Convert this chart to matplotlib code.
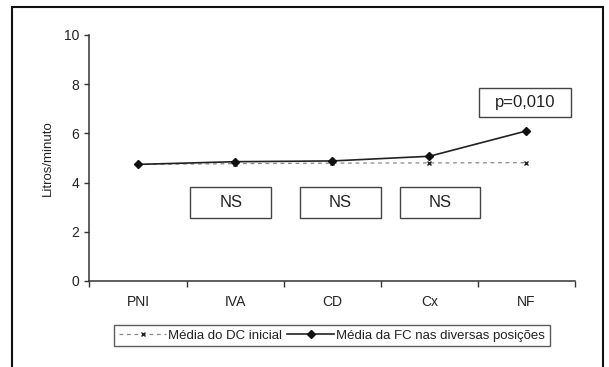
import matplotlib
matplotlib.use("Agg")
import matplotlib.pyplot as plt
from matplotlib.patches import Rectangle

plt.rcParams['font.family'] = ['Liberation Sans', 'DejaVu Sans']

categories = ["PNI", "IVA", "CD", "Cx", "NF"]
dc_inicial = [4.74, 4.77, 4.79, 4.80, 4.81]
fc_posicoes = [4.74, 4.85, 4.88, 5.07, 6.10]
y_ticks = [0, 2, 4, 6, 8, 10]
ns_labels = ["NS", "NS", "NS"]
p_label = "p=0,010"
series_labels = ["Média do DC inicial", "Média da FC nas diversas posições"]
y_label = "Litros/minuto"

W, H = 609, 367
fig = plt.figure(figsize=(W / 100, H / 100), dpi=100)
ax = fig.add_axes([89.5 / W, 1 - 281 / H, (575 - 89.5) / W, (281 - 35) / H])

x = list(range(len(categories)))
ax.plot(x, dc_inicial, linestyle=(0, (3, 3)), color="#888888", linewidth=0.9,
        marker="x", markersize=3.5, markeredgecolor="#222222", markeredgewidth=1.0,
        label=series_labels[0], zorder=3)
ax.plot(x, fc_posicoes, linestyle="-", color="#222222", linewidth=1.2,
        marker="D", markersize=4.5, markerfacecolor="#111111", markeredgecolor="#111111",
        label=series_labels[1], zorder=4)

ax.set_xlim(-0.5, len(categories) - 0.5)
ax.set_ylim(0, 10)
ax.set_yticks(y_ticks)
ax.set_yticklabels([str(v) for v in y_ticks], fontsize=10, color="#222222")
ax.set_xticks(x)
ax.set_xticklabels(categories, fontsize=10, color="#222222")
ax.set_xticks([i - 0.5 for i in range(len(categories) + 1)], minor=True)
ax.tick_params(axis="x", which="major", length=0, pad=10)
ax.tick_params(axis="x", which="minor", length=4, direction="out", color="#333333", width=1)
ax.tick_params(axis="y", length=3.5, direction="out", color="#333333", width=1, pad=4)

for s in ["top", "right"]:
    ax.spines[s].set_visible(False)
for s in ["left", "bottom"]:
    ax.spines[s].set_color("#333333")
    ax.spines[s].set_linewidth(1.1)

# annotation boxes
ns_boxes = [(0.54, 1.37), (1.67, 2.50), (2.70, 3.52)]
for (x0, x1), lab in zip(ns_boxes, ns_labels):
    ax.add_patch(Rectangle((x0, 2.57), x1 - x0, 3.81 - 2.57, fill=False,
                           edgecolor="#444444", linewidth=1.0, zorder=2))
    ax.text((x0 + x1) / 2, (2.57 + 3.81) / 2, lab, ha="center", va="center",
            fontsize=12, color="#222222")
px0, px1, py0, py1 = 3.51, 4.46, 6.67, 7.86
ax.add_patch(Rectangle((px0, py0), px1 - px0, py1 - py0, fill=False,
                       edgecolor="#444444", linewidth=1.0, zorder=2))
ax.text((px0 + px1) / 2, (py0 + py1) / 2, p_label, ha="center", va="center",
        fontsize=12, color="#222222")

fig.text(48 / W, 1 - 158 / H, y_label, rotation=90, ha="center", va="center",
         fontsize=9.5, color="#222222")

leg = fig.legend(loc="center", bbox_to_anchor=(332 / W, 1 - 335.5 / H), ncol=2,
                 frameon=True, fancybox=False, fontsize=9.5, handlelength=3.6,
                 handletextpad=0.15, columnspacing=0.35, borderpad=0.35,
                 borderaxespad=0)
leg.get_frame().set_edgecolor("#333333")
leg.get_frame().set_linewidth(1.0)
for t in leg.get_texts():
    t.set_color("#222222")

# outer frame
fig.add_artist(Rectangle((12 / W, -0.05), (603 - 12) / W, 1 - 7 / H + 0.05,
                         transform=fig.transFigure, fill=False,
                         edgecolor="#111111", linewidth=1.5, clip_on=False))

fig.savefig("out.png", dpi=100)
